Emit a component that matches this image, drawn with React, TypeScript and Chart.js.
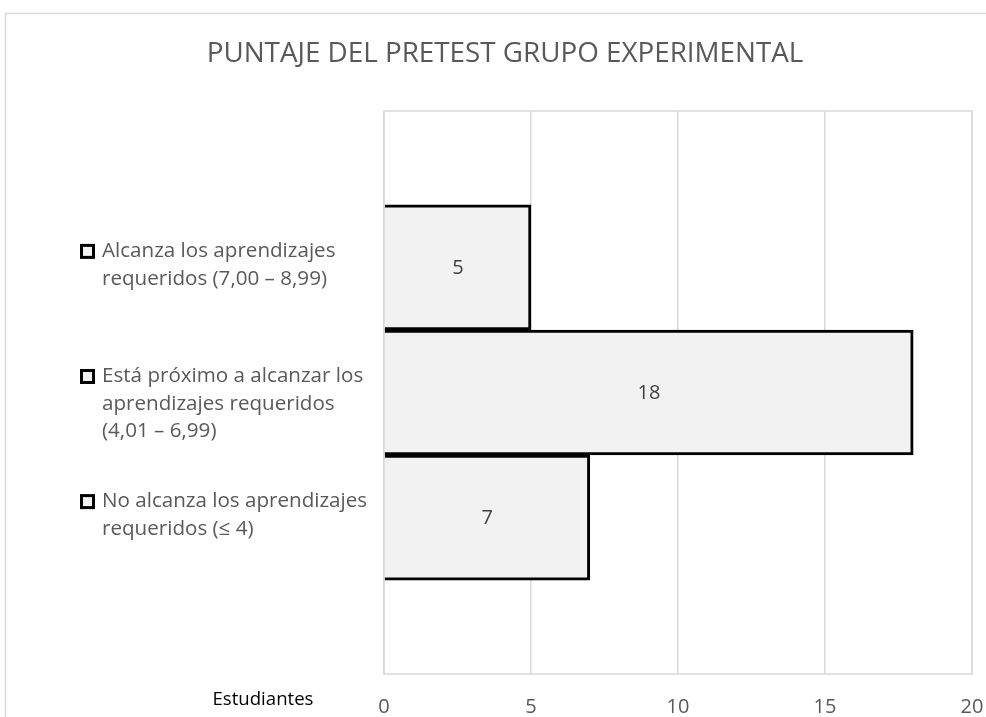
import React, { useEffect, useRef } from "react";
import { Chart, registerables } from "chart.js";

Chart.register(...registerables);

const titleText = "PUNTAJE DEL PRETEST GRUPO EXPERIMENTAL";
const categoryLines: string[][] = [
  ["Alcanza los aprendizajes", "requeridos (7,00 – 8,99)"],
  ["Está próximo a alcanzar los", "aprendizajes requeridos", "(4,01 – 6,99)"],
  ["No alcanza los aprendizajes", "requeridos (≤ 4)"],
];
const seriesName = "Estudiantes";
const values = [5, 18, 7];
const xMin = 0;
const xMax = 20;
const xStep = 5;

const FONT = "'Open Sans', Lato, sans-serif";
const GRAY_TEXT = "#595959";
const GRID = "#d9d9d9";

const decorPlugin = {
  id: "decor",
  beforeDraw(chart: any) {
    const ctx = chart.ctx;
    const { left, top, right, bottom } = chart.chartArea;
    ctx.save();
    ctx.strokeStyle = GRID;
    ctx.lineWidth = 1.5;
    ctx.beginPath();
    ctx.moveTo(5.5, chart.height);
    ctx.lineTo(5.5, 13.5);
    ctx.lineTo(chart.width, 13.5);
    ctx.stroke();
    ctx.strokeRect(left, top, right - left, bottom - top);
    ctx.restore();
  },
  afterDraw(chart: any) {
    const ctx = chart.ctx;
    const yScale = chart.scales.y;
    ctx.save();
    // title
    ctx.fillStyle = GRAY_TEXT;
    ctx.font = `27.8px ${FONT}`;
    ctx.textAlign = "center";
    ctx.textBaseline = "middle";
    ctx.fillText(titleText, 505, 54);

    // category labels
    ctx.font = `20.6px ${FONT}`;
    ctx.textAlign = "left";
    categoryLines.forEach((lines, i) => {
      const cy = yScale.getPixelForValue(i);
      const y0 = cy - 16;
      ctx.fillStyle = "#f2f2f2";
      ctx.fillRect(81.5, y0 - 6, 12, 12);
      ctx.strokeStyle = "#000";
      ctx.lineWidth = 3;
      ctx.strokeRect(81.5, y0 - 6, 12, 12);
      ctx.fillStyle = GRAY_TEXT;
      lines.forEach((ln, j) => {
        ctx.fillText(ln, 102, y0 + j * 27.5);
      });
    });

    // series name at bottom-left
    ctx.fillStyle = "#000";
    ctx.font = `18.6px ${FONT}`;
    ctx.textAlign = "center";
    ctx.fillText(seriesName, 263, 700);

    // value labels
    const meta = chart.getDatasetMeta(0);
    ctx.fillStyle = "#404040";
    ctx.font = `20px ${FONT}`;
    ctx.textAlign = "center";
    meta.data.forEach((bar: any, i: number) => {
      const p = bar.getProps(["x", "y", "base"], true);
      ctx.fillText(String(values[i]), (p.x + p.base) / 2, p.y + 1);
    });
    ctx.restore();
  },
};

export default function App() {
  const ref = useRef<HTMLCanvasElement | null>(null);
  useEffect(() => {
    if (!ref.current) return;
    const chart = new Chart(ref.current, {
      type: "bar",
      data: {
        datasets: [
          {
            label: seriesName,
            data: values.map((v, i) => ({ x: v, y: i })),
            backgroundColor: "#f2f2f2",
            borderColor: "#000000",
            borderWidth: 3,
            barThickness: 125,
          },
        ],
      },
      plugins: [decorPlugin],
      options: {
        indexAxis: "y",
        animation: false,
        responsive: false,
        devicePixelRatio: 1,
        layout: { padding: { top: 111, right: 14, bottom: 0, left: 0 } },
        plugins: {
          legend: { display: false },
          title: { display: false },
          tooltip: { enabled: false },
        },
        scales: {
          x: {
            type: "linear",
            min: xMin,
            max: xMax,
            ticks: {
              stepSize: xStep,
              color: GRAY_TEXT,
              font: { family: FONT, size: 20 },
              padding: 21,
            },
            grid: { color: GRID, lineWidth: 1.5, drawTicks: false },
            border: { display: false },
            afterFit: (s: any) => {
              s.height = 43;
              s.paddingRight = 0;
              s.paddingLeft = 0;
            },
          },
          y: {
            type: "linear",
            min: -1.25,
            max: 3.25,
            offset: false,
            reverse: true,
            ticks: { display: false },
            grid: { display: false },
            border: { display: false },
            afterFit: (s: any) => {
              s.width = 384;
              s.paddingTop = 0;
              s.paddingBottom = 0;
            },
          },
        },
      } as any,
    });
    return () => chart.destroy();
  }, []);
  return (
    <div style={{ position: "absolute", left: 0, top: 0, width: 986, height: 717 }}>
      <canvas ref={ref} width={986} height={717} />
    </div>
  );
}
